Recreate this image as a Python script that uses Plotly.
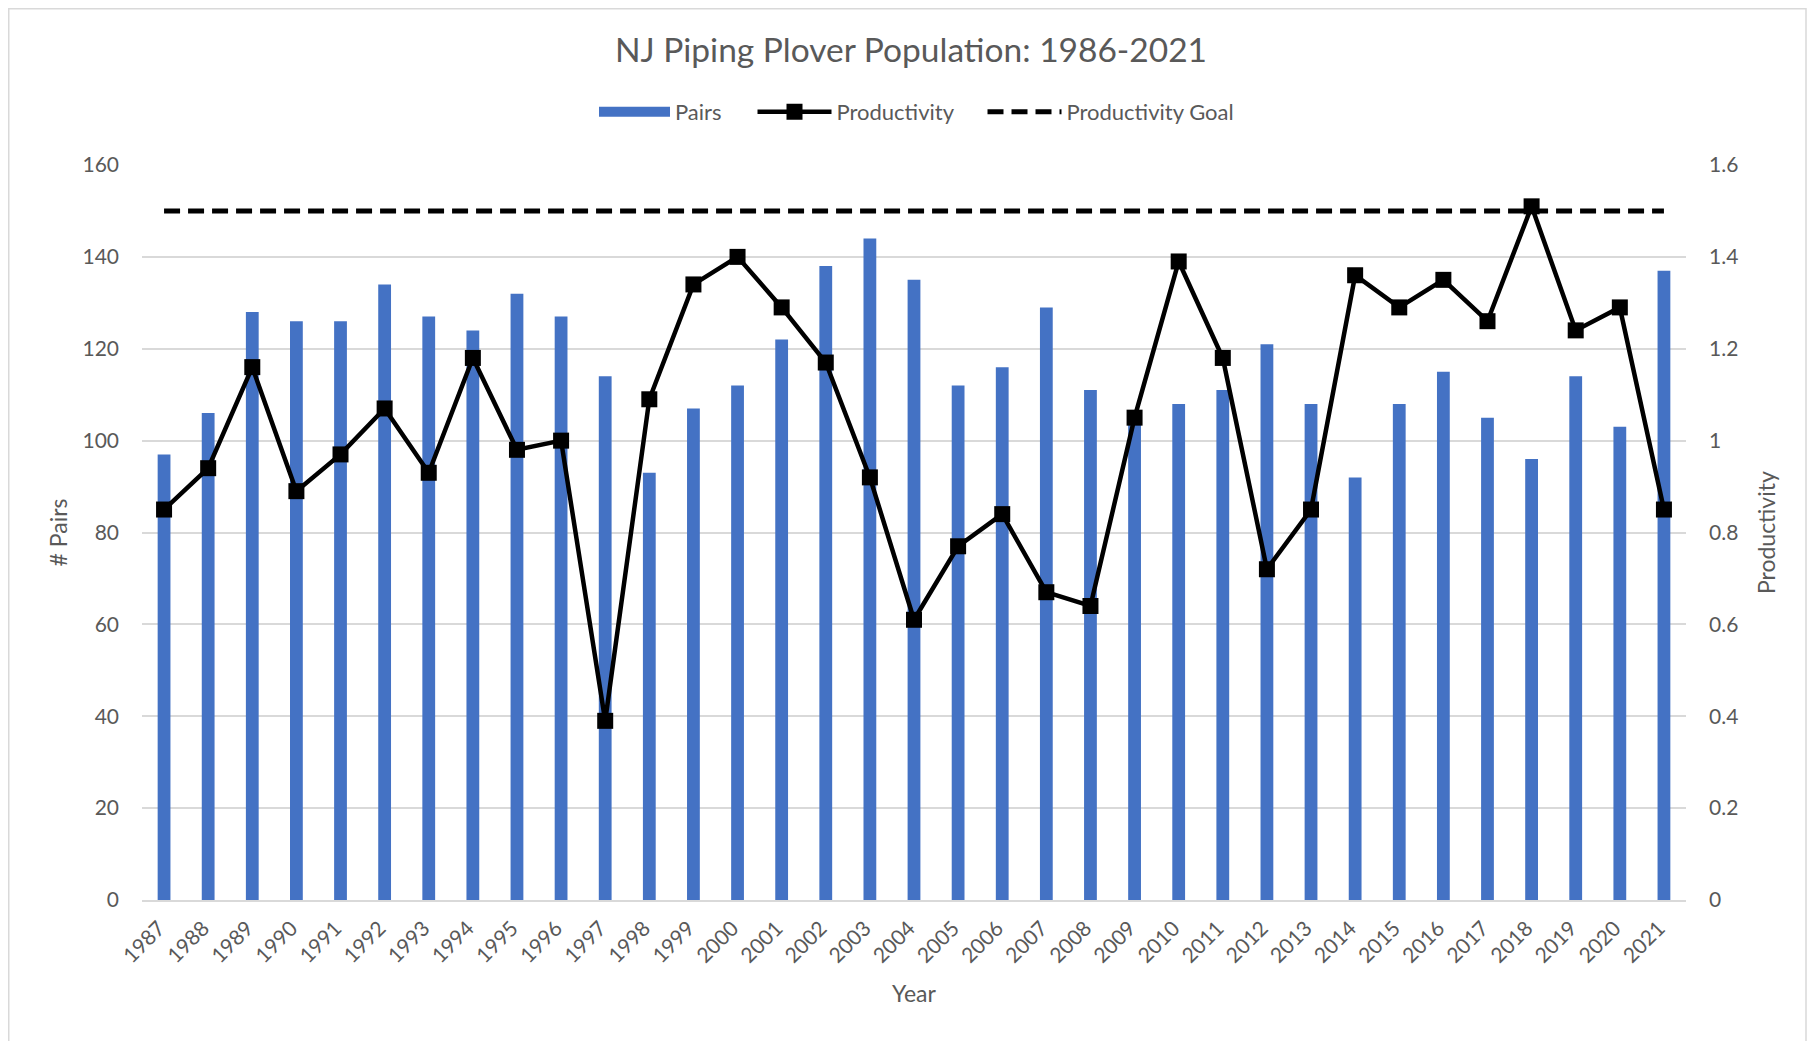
import plotly.graph_objects as go

years = [str(y) for y in range(1987, 2022)]
pairs = [97, 106, 128, 126, 126, 134, 127, 124, 132, 127,
         114, 93, 107, 112, 122, 138, 144, 135, 112, 116,
         129, 111, 105, 108, 111, 121, 108, 92, 108, 115,
         105, 96, 114, 103, 137]
productivity = [0.85, 0.94, 1.16, 0.89, 0.97, 1.07, 0.93, 1.18, 0.98, 1.00,
                0.39, 1.09, 1.34, 1.40, 1.29, 1.17, 0.92, 0.61, 0.77, 0.84,
                0.67, 0.64, 1.05, 1.39, 1.18, 0.72, 0.85, 1.36, 1.29, 1.35,
                1.26, 1.51, 1.24, 1.29, 0.85]
goal = [1.5] * len(years)

FONT = "Lato"
TXT = "#595959"
GRID = "#D9D9D9"
BLUE = "#4472C4"

W, H = 1811, 1033          # page body has an 8px margin
L, R, T, B = 134, 133, 157, 141
PW, PH = W - L - R, H - T - B

fig = go.Figure()
fig.add_trace(go.Bar(x=years, y=pairs, name="Pairs", marker_color=BLUE,
                     marker_line_width=0, showlegend=False, yaxis="y"))
# legend entry for Pairs drawn as a wide blue swatch
fig.add_trace(go.Scatter(x=[None], y=[None], mode="lines", name="Pairs",
                         line=dict(color=BLUE, width=10), legend="legend", yaxis="y"))
fig.add_trace(go.Scatter(x=years, y=goal, mode="lines", name="Productivity Goal",
                         line=dict(color="black", width=5, dash="16px,8px"),
                         legend="legend3", yaxis="y2"))
fig.add_trace(go.Scatter(x=years, y=productivity, mode="lines+markers", name="Productivity",
                         line=dict(color="black", width=4.5),
                         marker=dict(symbol="square", size=16, color="black"),
                         legend="legend2", yaxis="y2"))

def leg(xpx, iw):
    return dict(orientation="h", x=(xpx - 5.5) / W, xanchor="left", xref="container",
                y=1 - 104 / H, yanchor="middle", yref="container",
                font=dict(size=22, color=TXT), itemwidth=iw, bgcolor="rgba(0,0,0,0)")

fig.update_layout(
    width=W, height=H,
    paper_bgcolor="white", plot_bgcolor="white",
    margin=dict(l=L, r=R, t=T, b=B, autoexpand=False),
    font=dict(family=FONT, color=TXT, size=21),
    title=dict(text="NJ Piping Plover Population: 1986-2021", x=903 / W, xanchor="center",
               y=1 - 42 / H, yanchor="middle", yref="container",
               font=dict(size=33.5, color=TXT, family=FONT)),
    legend=leg(591.5, 71),
    legend2=leg(750, 74),
    legend3=leg(980, 74),
    bargap=0.71,
    xaxis=dict(type="category", range=[-0.5, len(years) - 0.5], tickangle=-45,
               showgrid=False, ticks="", automargin=False, ticklabelstandoff=6,
               ticklabelshift=-5,
               title=dict(text="Year", font=dict(size=23, color=TXT), standoff=20),
               tickfont=dict(size=21, color=TXT), showline=True, linecolor=GRID, linewidth=1.5),
    yaxis=dict(range=[0, 160], dtick=20, showgrid=True, gridcolor=GRID, gridwidth=1.5,
               zeroline=False, ticks="", ticklabelstandoff=22, automargin=False,
               title=dict(text="# Pairs", font=dict(size=23, color=TXT), standoff=8),
               tickfont=dict(size=21, color=TXT)),
    yaxis2=dict(range=[0, 1.6], dtick=0.2, overlaying="y", side="right", showgrid=False,
                zeroline=False, ticks="", ticklabelstandoff=22, automargin=False,
                tickfont=dict(size=21, color=TXT)),
    annotations=[dict(text="Productivity", textangle=-90, xref="paper", yref="paper",
                      x=(1757.6 - L) / PW, y=0.5, xanchor="center", yanchor="middle",
                      showarrow=False, font=dict(size=23, color=TXT))],
    shapes=[dict(type="rect", xref="paper", yref="paper",
                 x0=(0.75 - L) / PW, x1=(1798 - L) / PW,
                 y0=(PH - (1040 - T)) / PH, y1=(PH + T - 0.75) / PH,
                 line=dict(color=GRID, width=1.5), fillcolor="rgba(0,0,0,0)", layer="below")],
)

fig.write_html("out.html")
